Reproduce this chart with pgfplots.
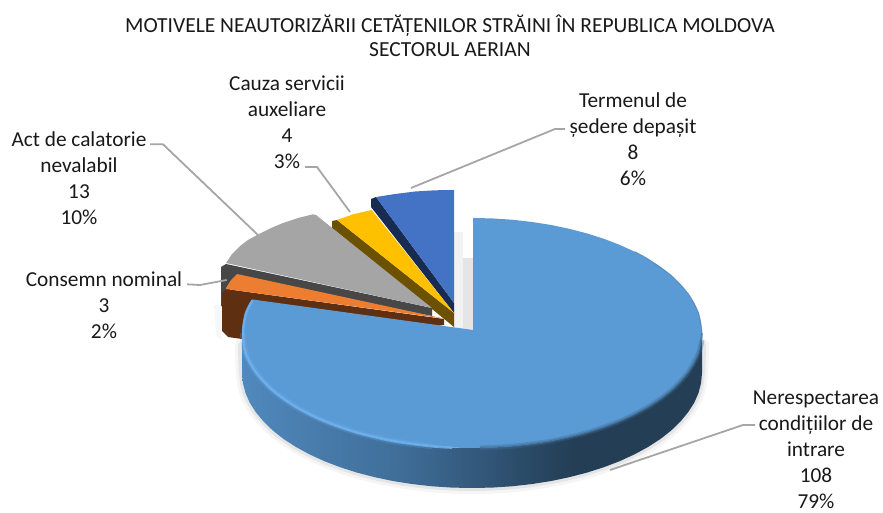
\documentclass[border=0pt]{standalone}
\usepackage{fontspec}
\setmainfont{Carlito}
\usepackage{pgfplots}
\pgfplotsset{compat=1.18}
\definecolor{tBlue}{HTML}{5B9BD5}
\definecolor{tOrange}{HTML}{ED7D31}
\definecolor{tGray}{HTML}{A5A5A5}
\definecolor{tYellow}{HTML}{FFC000}
\definecolor{tDBlue}{HTML}{4472C4}
\definecolor{sNavy}{HTML}{172C50}
\definecolor{sYellow}{HTML}{6B5100}
\definecolor{sGray}{HTML}{474747}
\definecolor{sBrown}{HTML}{5F2F12}
\definecolor{leader}{HTML}{A6A6A6}
\definecolor{bright}{HTML}{6FB2F0}
\definecolor{sA}{HTML}{5089BE}
\definecolor{sB}{HTML}{4A7FB0}
\definecolor{sC}{HTML}{3F6E99}
\definecolor{sD}{HTML}{345A7D}
\definecolor{sE}{HTML}{2A4A66}
\definecolor{sF}{HTML}{243E55}
\pgfdeclarehorizontalshading{sideblue}{100bp}{
 color(0bp)=(sA); color(25bp)=(sA); color(31bp)=(sB); color(42bp)=(sC);
 color(50bp)=(sD); color(56bp)=(sE); color(61bp)=(sF); color(100bp)=(sF)}
\tikzset{lab/.style={font=\fontsize{21.3}{26}\selectfont, align=center, text=black!90, inner sep=0pt, anchor=center}}
\begin{document}
\begin{tikzpicture}
\begin{axis}[
  scale only axis, width=883pt, height=513pt,
  xmin=0, xmax=883, ymin=0, ymax=513, y dir=reverse,
  hide axis, clip=false,
]
% frame points (invisible)
\addplot[draw=none, forget plot] coordinates {(0,0) (883,513)};
% soft shadows
\addplot[draw=black!4, line width=12pt, line join=round, line cap=round, smooth] coordinates {(703,345) (702,373) (698.5,393) (688.1,412.3) (671.2,430.5) (648.2,446.9) (619.8,461.1) (587,472.6) (550.7,481.1) (511.9,486.3) (472,488) (432.1,486.3) (393.3,481.1) (357,472.6) (324.2,461.1) (295.8,446.9) (272.8,430.5) (255.9,412.3) (245.5,393) (242,373) (241,345)};
\addplot[draw=black!10, line width=6pt, line join=round, line cap=round, smooth] coordinates {(703,345) (702,373) (698.5,393) (688.1,412.3) (671.2,430.5) (648.2,446.9) (619.8,461.1) (587,472.6) (550.7,481.1) (511.9,486.3) (472,488) (432.1,486.3) (393.3,481.1) (357,472.6) (324.2,461.1) (295.8,446.9) (272.8,430.5) (255.9,412.3) (245.5,393) (242,373) (241,345)};
% shadow in gap and left of the small slices
\addplot[fill=black!5, draw=none] coordinates {(454,232) (463,232) (463,330) (454,330)} --cycle;
\addplot[fill=black!10, draw=none] coordinates {(463,258) (473,258) (473,332) (463,331)} --cycle;
\addplot[fill=black!3, draw=none] coordinates {(214,305) (222,305) (222,340) (216,336)} --cycle;
% Termenul de sedere
\addplot[fill=sNavy, draw=none] coordinates {(371,199) (376,197) (454,303) (454,313) (371,207)} --cycle;
\addplot[fill=tDBlue, draw=none] coordinates {(376,197) (395,194) (415,191.5) (435,190.3) (454,190) (454,303)} --cycle;
% Cauza servicii
\addplot[fill=sYellow, draw=none] coordinates {(332,221) (337,220) (454,313) (454,327) (432,309) (332,228)} --cycle;
\addplot[fill=tYellow, draw=none] coordinates {(337,220) (354,214) (371.7,210) (454,313)} --cycle;
% Act de calatorie
\addplot[fill=sGray, draw=none] coordinates {(221,267) (226,264) (432,308) (432,316) (237,278) (224,300) (224,307) (221,306)} --cycle;
\addplot[fill=tGray, draw=none] coordinates {(226,263) (232,254) (240,246) (248,240) (257,235) (270,228.5) (283,223) (298,218) (313,214.3) (316,215) (432,308)} --cycle;
% Consemn nominal
\addplot[fill=sBrown, draw=none] coordinates {(222,293) (226,289) (444,319) (444,325) (300,345) (242,339) (228,337) (222,331)} --cycle;
\addplot[fill=tOrange, draw=none] coordinates {(226,288) (231,280) (237,274) (443.5,318.5) (226,289)} --cycle;
% Nerespectarea: side
\addplot[shading=sideblue, draw=none] coordinates {(702,333) (701.1,343) (698.5,353) (694.2,362.8) (688.1,372.3) (680.4,381.6) (671.2,390.5) (660.4,399) (648.2,406.9) (634.6,414.3) (619.8,421.1) (603.9,427.2) (587,432.6) (569.2,437.2) (550.7,441.1) (531.5,444.1) (511.9,446.3) (492.1,447.6) (472,448) (451.9,447.6) (432.1,446.3) (412.5,444.1) (393.3,441.1) (374.8,437.2) (357,432.6) (340.1,427.2) (324.2,421.1) (309.4,414.3) (295.8,406.9) (283.6,399) (272.8,390.5) (263.6,381.6) (255.9,372.3) (249.8,362.8) (245.5,353) (242.9,343) (242,333) (242,373) (242.9,383) (245.5,393) (249.8,402.8) (255.9,412.3) (263.6,421.6) (272.8,430.5) (283.6,439) (295.8,446.9) (309.4,454.3) (324.2,461.1) (340.1,467.2) (357,472.6) (374.8,477.2) (393.3,481.1) (412.5,484.1) (432.1,486.3) (451.9,487.6) (472,488) (492.1,487.6) (511.9,486.3) (531.5,484.1) (550.7,481.1) (569.2,477.2) (587,472.6) (603.9,467.2) (619.8,461.1) (634.6,454.3) (648.2,446.9) (660.4,439) (671.2,430.5) (680.4,421.6) (688.1,412.3) (694.2,402.8) (698.5,393) (701.1,383) (702,373)} --cycle;
% Nerespectarea: top
\addplot[fill=tBlue, draw=none] coordinates {(473,218) (492.1,218.4) (511.9,219.7) (531.5,221.9) (550.7,224.9) (569.2,228.8) (587,233.4) (603.9,238.8) (619.8,244.9) (634.6,251.7) (648.2,259.1) (660.4,267) (671.2,275.5) (680.4,284.4) (688.1,293.7) (694.2,303.2) (698.5,313) (701.1,323) (702,333) (701.1,343) (698.5,353) (694.2,362.8) (688.1,372.3) (680.4,381.6) (671.2,390.5) (660.4,399) (648.2,406.9) (634.6,414.3) (619.8,421.1) (603.9,427.2) (587,432.6) (569.2,437.2) (550.7,441.1) (531.5,444.1) (511.9,446.3) (492.1,447.6) (472,448) (451.9,447.6) (432.1,446.3) (412.5,444.1) (393.3,441.1) (374.8,437.2) (357,432.6) (340.1,427.2) (324.2,421.1) (309.4,414.3) (295.8,406.9) (283.6,399) (272.8,390.5) (263.6,381.6) (255.9,372.3) (249.8,362.8) (245.5,353) (242.9,343) (242,333) (242.9,323) (245.5,313) (249.8,303.2) (252,299.4) (473,330)} --cycle;
% bevels
\addplot[draw=tBlue!50!sF, line width=5pt, opacity=0.35, smooth] coordinates {(702,340) (698.5,353) (688.1,372.3) (671.2,390.5) (648.2,406.9) (619.8,421.1) (587,432.6) (550.7,441.1) (511.9,446.3) (480,448)};
\addplot[draw=tBlue!50!sF, line width=2pt, opacity=0.6, smooth] coordinates {(702,333) (698.5,353) (688.1,372.3) (671.2,390.5) (648.2,406.9) (619.8,421.1) (587,432.6) (550.7,441.1) (511.9,446.3) (480,448)};
\addplot[draw=tBlue!70!sF, line width=1pt, opacity=0.7, smooth] coordinates {(634.6,251.7) (648.2,259.1) (671.2,275.5) (688.1,293.7) (698.5,313) (702,333)};
\addplot[draw=bright, line width=6pt, opacity=0.22, smooth] coordinates {(432.1,446.3) (393.3,441.1) (357,432.6) (324.2,421.1) (295.8,406.9) (272.8,390.5) (255.9,372.3) (245.5,353) (242.9,333)};
\addplot[draw=bright, line width=2.5pt, opacity=0.85, smooth] coordinates {(452,447.6) (432.1,446.3) (393.3,441.1) (357,432.6) (324.2,421.1) (295.8,406.9) (272.8,390.5) (255.9,372.3) (245.5,353) (243,333) (246,313) (252.5,300.5)};
% leader lines
\addplot[draw=leader, line width=1.8pt] coordinates {(411,188) (555,129) (565,129)};
\addplot[draw=leader, line width=1.8pt] coordinates {(305,167) (317,167) (350,212)};
\addplot[draw=leader, line width=1.8pt] coordinates {(150,144.3) (163,144.3) (258,235)};
\addplot[draw=leader, line width=1.8pt] coordinates {(187,284.3) (200,285) (226.7,280)};
\addplot[draw=leader, line width=1.8pt] coordinates {(610,470) (743,425) (755,425)};
% texts
\node[lab, font=\fontsize{21.5}{24}\selectfont] at (axis cs:450,36) {MOTIVELE NEAUTORIZĂRII CETĂȚENILOR STRĂINI ÎN REPUBLICA MOLDOVA\\SECTORUL AERIAN};
\node[lab] at (axis cs:633,139.5) {Termenul de\\ședere depașit\\8\\6\%};
\node[lab] at (axis cs:287,122) {Cauza servicii\\auxeliare\\4\\3\%};
\node[lab] at (axis cs:79,178) {Act de calatorie\\nevalabil\\13\\10\%};
\node[lab] at (axis cs:104,305) {Consemn nominal\\3\\2\%};
\node[lab] at (axis cs:816,449.5) {Nerespectarea\\condițiilor de\\intrare\\108\\79\%};
\end{axis}
\end{tikzpicture}
\end{document}
